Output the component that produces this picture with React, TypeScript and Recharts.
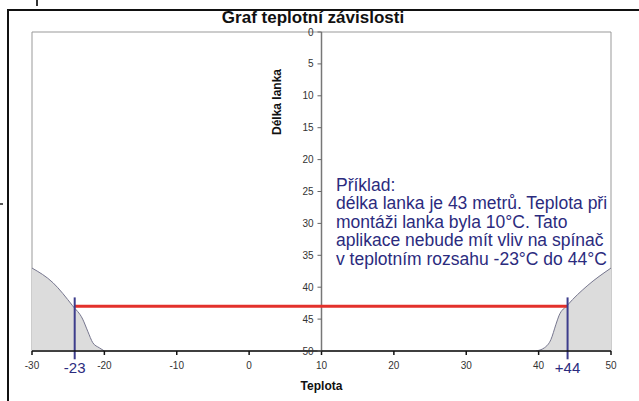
import {
  ComposedChart,
  Area,
  Line,
  XAxis,
  YAxis,
  ReferenceLine,
  ReferenceArea,
  ReferenceDot,
} from "recharts";

const xTicks = [-30, -20, -10, 0, 10, 20, 30, 40, 50];
const yTicks = [0, 5, 10, 15, 20, 25, 30, 35, 40, 45, 50];

// gray zones: below the curve the switch is affected
const leftZone = [
  { x: -30, y: 37 },
  { x: -27.1, y: 39.3 },
  { x: -24.4, y: 42.9 },
  { x: -23, y: 45 },
  { x: -22.3, y: 46.9 },
  { x: -21.6, y: 48.7 },
  { x: -20.7, y: 49.5 },
  { x: -20, y: 50 },
];
const rightZone = [
  { x: 39.6, y: 50 },
  { x: 40.8, y: 49.5 },
  { x: 41.7, y: 48.2 },
  { x: 42.4, y: 45.8 },
  { x: 42.8, y: 44.5 },
  { x: 44, y: 42.8 },
  { x: 46.7, y: 39.8 },
  { x: 50, y: 37 },
];

const cableLength = 43;
const rangeFrom = -24.1;
const rangeTo = 44;
const rangeLabels = ["-23", "+44"];
const redLine = [
  { x: rangeFrom, y: cableLength },
  { x: rangeTo, y: cableLength },
];

const exampleLines = [
  "Příklad:",
  "délka lanka je 43 metrů. Teplota při",
  "montáži lanka byla 10°C. Tato",
  "aplikace nebude mít vliv na spínač",
  "v teplotním rozsahu -23°C do 44°C",
];

const W = 639;
const H = 401;
const M = { top: 32, right: 28, left: 31, bottom: 0 };
const X_MIN = -30;
const X_MAX = 50;
const Y_AXIS_AT = 10;
const PLOT_LEFT = M.left + 1;
const AXIS_PX = PLOT_LEFT + ((W - PLOT_LEFT - M.right) * (Y_AXIS_AT - X_MIN)) / (X_MAX - X_MIN);

const font = "Arial, 'Liberation Sans', sans-serif";
const navy = "#2b2b7e";

const YTick = (props: any) => {
  const { y, payload } = props;
  return (
    <g>
      <line x1={AXIS_PX - 4} x2={AXIS_PX} y1={y} y2={y} stroke="#666" />
      <text x={AXIS_PX - 8} y={y} dy="0.35em" textAnchor="end" fontSize={10} fill="#333" fontFamily={font}>
        {payload.value}
      </text>
    </g>
  );
};

export default function App() {
  return (
    <div style={{ position: "fixed", left: 0, top: 0, width: W, height: H, background: "#fff", fontFamily: font }}>
      <ComposedChart width={W} height={H} margin={M}>
        <ReferenceArea x1={X_MIN} x2={X_MAX} y1={0} y2={50} fill="none" stroke="#999" strokeWidth={1} />
        <XAxis
          type="number"
          dataKey="x"
          domain={[X_MIN, X_MAX]}
          ticks={xTicks}
          allowDataOverflow
          height={50}
          stroke="#111"
          strokeWidth={1.5}
          tickSize={4}
          tickMargin={7}
          tick={{ fontSize: 10, fill: "#333", fontFamily: font }}
          label={{ value: "Teplota", position: "insideBottom", offset: 11, fontSize: 12, fontWeight: "bold", fill: "#111", fontFamily: font }}
        />
        <YAxis
          type="number"
          dataKey="y"
          reversed
          domain={[0, 50]}
          ticks={yTicks}
          interval={0}
          allowDataOverflow
          width={1}
          axisLine={false}
          tickLine={false}
          tick={(p: any) => <YTick {...p} />}
        />
        <ReferenceLine x={Y_AXIS_AT} stroke="#777" strokeWidth={1.5} />
        <Area data={leftZone} dataKey="y" type="monotone" baseValue={50} fill="#dcdcdc" fillOpacity={1} stroke="#76768e" strokeWidth={1} isAnimationActive={false} />
        <Area data={rightZone} dataKey="y" type="monotone" baseValue={50} fill="#dcdcdc" fillOpacity={1} stroke="#76768e" strokeWidth={1} isAnimationActive={false} />
        <Line data={redLine} dataKey="y" stroke="#e3312b" strokeWidth={3} dot={false} isAnimationActive={false} />
        {[rangeFrom, rangeTo].map((v) => (
          <ReferenceLine
            key={v}
            segment={[{ x: v, y: 41.6 }, { x: v, y: 51.3 }]}
            ifOverflow="visible"
            stroke="#3d3d8c"
            strokeWidth={2}
          />
        ))}
        {[rangeFrom, rangeTo].map((v, i) => (
          <ReferenceDot
            key={"l" + v}
            x={v}
            y={52.6}
            r={1}
            fill="none"
            stroke="none"
            ifOverflow="visible"
            label={{ value: rangeLabels[i], position: "center", fontSize: 15, fill: navy, fontFamily: font }}
          />
        ))}
      </ComposedChart>
      <div style={{ position: "absolute", left: 7, top: 9, width: W, height: H, borderLeft: "2px solid #111", borderTop: "2px solid #111", zIndex: 2, pointerEvents: "none" }} />
      <div style={{ position: "absolute", left: 36, top: 0, width: 1.5, height: 6, background: "#333", zIndex: 2 }} />
      <div style={{ position: "absolute", left: 0, top: 203, width: 3, height: 1.5, background: "#555", zIndex: 2 }} />
      <div style={{ position: "absolute", left: 0, top: 9, width: 626, textAlign: "center", fontSize: 17, fontWeight: "bold", lineHeight: "17px", color: "#111", zIndex: 2 }}>
        Graf teplotní závislosti
      </div>
      <div style={{ position: "absolute", left: 277, top: 102, width: 12, height: 0, zIndex: 2 }}>
        <div style={{ position: "absolute", left: 0, top: 0, transform: "translate(-50%, -50%) rotate(-90deg)", whiteSpace: "nowrap", fontSize: 12, fontWeight: "bold", color: "#111", lineHeight: "12px" }}>
          Délka lanka
        </div>
      </div>
      <div style={{ position: "absolute", left: 336, top: 176, fontSize: 17.5, lineHeight: "18.4px", color: navy, whiteSpace: "nowrap", zIndex: 2 }}>
        {exampleLines.map((t) => (
          <div key={t}>{t}</div>
        ))}
      </div>
    </div>
  );
}
